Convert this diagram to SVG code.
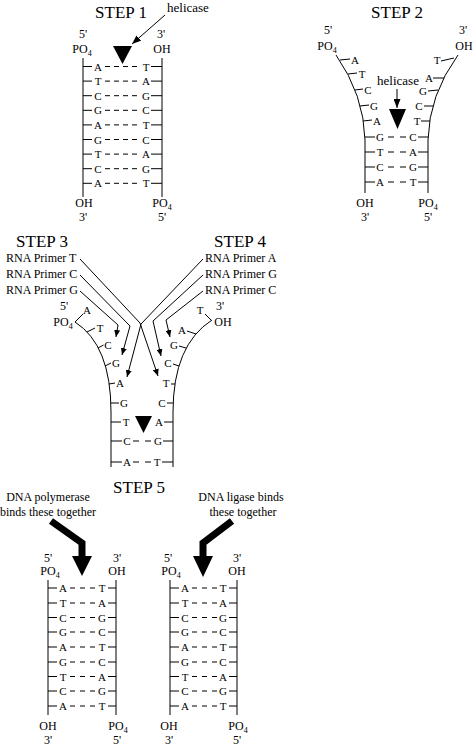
<svg xmlns="http://www.w3.org/2000/svg" width="475" height="749" viewBox="0 0 475 749" font-family="Liberation Serif, Times New Roman, serif">
<defs>
<marker id="ah" markerUnits="userSpaceOnUse" markerWidth="7" markerHeight="6" refX="7" refY="3" orient="auto"><path d="M0,0 L7,3 L0,6 z" fill="#000"/></marker>
<marker id="ahb" markerUnits="userSpaceOnUse" markerWidth="9" markerHeight="7" refX="9" refY="3.5" orient="auto"><path d="M0,0 L9,3.5 L0,7 z" fill="#000"/></marker>
</defs>
<style>
text{font-family:'Liberation Serif','Times New Roman',Times,serif;fill:#000}
.t{font-size:17px;text-anchor:middle}
.b{font-size:11px;text-anchor:middle}
.l{font-size:12px;text-anchor:middle}
.p{font-size:12px}
.h{font-size:13px}
.sub{font-size:8px}
.s{stroke:#000;stroke-width:1;fill:none}
.d4{stroke:#000;stroke-width:1;fill:none;stroke-dasharray:5 4}
.d3{stroke:#000;stroke-width:1;fill:none;stroke-dasharray:5 5}
.d2{stroke:#000;stroke-width:1;fill:none;stroke-dasharray:6 6}
.c{stroke:#000;stroke-width:1;fill:none}
.big{stroke:#000;stroke-width:7;fill:none;stroke-linejoin:miter}
.tri{fill:#000}
</style>

<g id="step1" font-family="Liberation Serif, serif">
<text class="t" x="121" y="18">STEP 1</text>
<text class="l" x="83" y="38">5'</text>
<text class="l" x="82" y="53">PO<tspan class="sub" dy="3">4</tspan></text>
<text class="l" x="161" y="38">3'</text>
<text class="l" x="162" y="53">OH</text>
<path class="s" d="M83,58 V197 M162,58 V197"/>
<path class="s" d="M83,66.5 H92 M151,66.5 H162 M83,81.1 H92 M151,81.1 H162 M83,95.7 H92 M151,95.7 H162 M83,110.3 H92 M151,110.3 H162 M83,124.9 H92 M151,124.9 H162 M83,139.5 H92 M151,139.5 H162 M83,154.1 H92 M151,154.1 H162 M83,168.7 H92 M151,168.7 H162 M83,183.3 H92 M151,183.3 H162"/>
<path class="d4" d="M105,66.5 H137 M105,81.1 H137 M105,95.7 H137 M105,110.3 H137 M105,124.9 H137 M105,139.5 H137 M105,154.1 H137 M105,168.7 H137 M105,183.3 H137"/>
<text class="b" x="98" y="70.5">A</text><text class="b" x="146" y="70.5">T</text>
<text class="b" x="98" y="85.1">T</text><text class="b" x="146" y="85.1">A</text>
<text class="b" x="98" y="99.7">C</text><text class="b" x="146" y="99.7">G</text>
<text class="b" x="98" y="114.3">G</text><text class="b" x="146" y="114.3">C</text>
<text class="b" x="98" y="128.9">A</text><text class="b" x="146" y="128.9">T</text>
<text class="b" x="98" y="143.5">G</text><text class="b" x="146" y="143.5">C</text>
<text class="b" x="98" y="158.1">T</text><text class="b" x="146" y="158.1">A</text>
<text class="b" x="98" y="172.7">C</text><text class="b" x="146" y="172.7">G</text>
<text class="b" x="98" y="187.3">A</text><text class="b" x="146" y="187.3">T</text>
<text class="l" x="84" y="207">OH</text>
<text class="l" x="83" y="221">3'</text>
<text class="l" x="162" y="207">PO<tspan class="sub" dy="3">4</tspan></text>
<text class="l" x="162" y="221">5'</text>
<polygon class="tri" points="113,46 132,46 122.5,64"/>
<text class="h" x="167" y="12">helicase</text>
</g>

<g id="step2">
<text class="t" x="397" y="18">STEP 2</text>
<text class="l" x="328" y="34">5'</text>
<text class="l" x="327" y="50">PO<tspan class="sub" dy="3">4</tspan></text>
<text class="l" x="463" y="34">3'</text>
<text class="l" x="464" y="50">OH</text>
<path class="s" d="M336,55 Q364,95 365,140 L365,193 M458,55 Q429,95 428,140 L428,193"/>
<path class="s" d="M340,60 L350,59 M348,74 L357,73 M355,90 L363,89 M360,106 L369,105 M363,121 L372,120 M365,137 H375 M365,152 H375 M365,167 H375 M365,182 H375 M441,61 L454,58 M433,78 L444,78 M428,91 L438,90 M424,106 L433,106 M421,121 L430,121 M418,137 H428 M418,152 H428 M418,167 H428 M418,182 H428"/>
<path class="d2" d="M388,137 H406 M388,152 H406 M388,167 H406 M388,182 H406"/>
<text class="b" x="355" y="64">A</text><text class="b" x="437" y="64">T</text>
<text class="b" x="362" y="78">T</text><text class="b" x="429" y="82">A</text>
<text class="b" x="368" y="94">C</text><text class="b" x="423" y="95">G</text>
<text class="b" x="374" y="110">G</text><text class="b" x="419" y="110">C</text>
<text class="b" x="377" y="125">A</text><text class="b" x="417" y="125">T</text>
<text class="b" x="380" y="141">G</text><text class="b" x="413" y="141">C</text>
<text class="b" x="380" y="156">T</text><text class="b" x="413" y="156">A</text>
<text class="b" x="380" y="171">C</text><text class="b" x="413" y="171">G</text>
<text class="b" x="380" y="186">A</text><text class="b" x="413" y="186">T</text>
<text class="l" x="365" y="207">OH</text>
<text class="l" x="365" y="221">3'</text>
<text class="l" x="428" y="207">PO<tspan class="sub" dy="3">4</tspan></text>
<text class="l" x="428" y="221">5'</text>
<polygon class="tri" points="389,109 406,109 397.5,129"/>
<text class="h" x="398" y="85" text-anchor="middle">helicase</text>
</g>

<g id="step3-4">
<text class="t" x="42" y="247">STEP 3</text>
<text class="t" x="240" y="247">STEP 4</text>
<text class="p" x="6" y="262">RNA Primer T</text>
<text class="p" x="6" y="278">RNA Primer C</text>
<text class="p" x="6" y="294">RNA Primer G</text>
<text class="p" x="205" y="262">RNA Primer A</text>
<text class="p" x="205" y="278">RNA Primer G</text>
<text class="p" x="205" y="294">RNA Primer C</text>
<text class="l" x="64" y="310">5'</text>
<text class="l" x="63" y="326">PO<tspan class="sub" dy="3">4</tspan></text>
<text class="l" x="220" y="310">3'</text>
<text class="l" x="223" y="326">OH</text>
<path class="s" d="M75,322 Q111,345 111,412 L111,467 M212,320 Q173,345 173,412 L173,467"/>
<path class="s" d="M75,322 L83,314 M87,332 L95,328 M98,348 L103.5,345 M105,366 L111,363 M109,384 L115,383 M111,403 H119 M111,422 H121 M111,441 H122 M111,462 H122 M205,314 L211,320 M187,331 L196,334 M179,346 L186,348 M173,364 L179,366 M171,384 L175,384 M167,403 H173 M164,422 H173 M163,441 H173 M162,462 H173"/>
<path class="d2" d="M133,441 H151 M133,462 H151"/>
<text class="b" x="87" y="314">A</text><text class="b" x="200" y="314">T</text>
<text class="b" x="100" y="332">T</text><text class="b" x="182" y="334">A</text>
<text class="b" x="108" y="349">C</text><text class="b" x="174" y="349">G</text>
<text class="b" x="116" y="367">G</text><text class="b" x="168" y="367">C</text>
<text class="b" x="120" y="387">A</text><text class="b" x="166" y="387">T</text>
<text class="b" x="124" y="407">G</text><text class="b" x="162" y="407">C</text>
<text class="b" x="126" y="426">T</text><text class="b" x="159" y="426">A</text>
<text class="b" x="127" y="445">C</text><text class="b" x="158" y="445">G</text>
<text class="b" x="127" y="466">A</text><text class="b" x="157" y="466">T</text>
<polygon class="tri" points="135,416 152,416 143.5,433"/>
</g>

<g id="step5-left">
<text class="t" x="139" y="493">STEP 5</text>
<text class="l" x="48" y="501">DNA polymerase</text>
<text class="l" x="48" y="516">binds these together</text>
<text class="l" x="48" y="562">5'</text>
<text class="l" x="50" y="575">PO<tspan class="sub" dy="3">4</tspan></text>
<text class="l" x="117" y="562">3'</text>
<text class="l" x="117" y="575">OH</text>
<path class="s" d="M48,580 V715 M116,580 V715"/>
<path class="s" d="M48,588 H57 M108,588 H116 M48,603 H57 M108,603 H116 M48,617.5 H57 M108,617.5 H116 M48,632 H57 M108,632 H116 M48,647 H57 M108,647 H116 M48,662 H57 M108,662 H116 M48,676.5 H57 M108,676.5 H116 M48,691 H57 M108,691 H116 M48,706 H57 M108,706 H116"/>
<path class="d3" d="M70,588 H95 M70,603 H95 M70,617.5 H95 M70,632 H95 M70,647 H95 M70,662 H95 M70,676.5 H95 M70,691 H95 M70,706 H95"/>
<text class="b" x="63" y="592">A</text><text class="b" x="102" y="592">T</text>
<text class="b" x="63" y="607">T</text><text class="b" x="102" y="607">A</text>
<text class="b" x="63" y="621.5">C</text><text class="b" x="102" y="621.5">G</text>
<text class="b" x="63" y="636">G</text><text class="b" x="102" y="636">C</text>
<text class="b" x="63" y="651">A</text><text class="b" x="102" y="651">T</text>
<text class="b" x="63" y="666">G</text><text class="b" x="102" y="666">C</text>
<text class="b" x="63" y="680.5">T</text><text class="b" x="102" y="680.5">A</text>
<text class="b" x="63" y="695">C</text><text class="b" x="102" y="695">G</text>
<text class="b" x="63" y="710">A</text><text class="b" x="102" y="710">T</text>
<text class="l" x="48" y="730">OH</text>
<text class="l" x="48" y="744">3'</text>
<text class="l" x="118" y="730">PO<tspan class="sub" dy="3">4</tspan></text>
<text class="l" x="117" y="744">5'</text>
</g>

<g id="step5-right">
<text class="l" x="241" y="501">DNA ligase binds</text>
<text class="l" x="243" y="516">these together</text>
<text class="l" x="168" y="562">5'</text>
<text class="l" x="171" y="575">PO<tspan class="sub" dy="3">4</tspan></text>
<text class="l" x="237" y="562">3'</text>
<text class="l" x="237" y="575">OH</text>
<path class="s" d="M170,580 V715 M237,580 V715"/>
<path class="s" d="M170,588 H179 M229,588 H237 M170,603 H179 M229,603 H237 M170,617.5 H179 M229,617.5 H237 M170,632 H179 M229,632 H237 M170,647 H179 M229,647 H237 M170,662 H179 M229,662 H237 M170,676.5 H179 M229,676.5 H237 M170,691 H179 M229,691 H237 M170,706 H179 M229,706 H237"/>
<path class="d3" d="M192,588 H217 M192,603 H217 M192,617.5 H217 M192,632 H217 M192,647 H217 M192,662 H217 M192,676.5 H217 M192,691 H217 M192,706 H217"/>
<text class="b" x="185" y="592">A</text><text class="b" x="223" y="592">T</text>
<text class="b" x="185" y="607">T</text><text class="b" x="223" y="607">A</text>
<text class="b" x="185" y="621.5">C</text><text class="b" x="223" y="621.5">G</text>
<text class="b" x="185" y="636">G</text><text class="b" x="223" y="636">C</text>
<text class="b" x="185" y="651">A</text><text class="b" x="223" y="651">T</text>
<text class="b" x="185" y="666">G</text><text class="b" x="223" y="666">C</text>
<text class="b" x="185" y="680.5">T</text><text class="b" x="223" y="680.5">A</text>
<text class="b" x="185" y="695">C</text><text class="b" x="223" y="695">G</text>
<text class="b" x="185" y="710">A</text><text class="b" x="223" y="710">T</text>
<text class="l" x="169" y="730">OH</text>
<text class="l" x="169" y="744">3'</text>
<text class="l" x="238" y="730">PO<tspan class="sub" dy="3">4</tspan></text>
<text class="l" x="237" y="744">5'</text>
</g>

<g id="connectors">
<line class="c" x1="165" y1="15" x2="132" y2="44" marker-end="url(#ahb)"/>
<line class="c" x1="397" y1="89" x2="397" y2="108" marker-end="url(#ahb)"/>
<polyline class="c" points="80,259 140,323 158,376" marker-end="url(#ah)"/>
<polyline class="c" points="80,275 130,326 122,355" marker-end="url(#ah)"/>
<polyline class="c" points="80,291 118,325 116,337" marker-end="url(#ah)"/>
<polyline class="c" points="203,259 141,324 127,377" marker-end="url(#ah)"/>
<polyline class="c" points="203,275 153,321 161,356" marker-end="url(#ah)"/>
<polyline class="c" points="203,291 166,320 170,337" marker-end="url(#ah)"/>
<polyline class="big" points="51,521 82,543 82,558"/>
<polygon class="tri" points="72,556 92,556 82,576"/>
<polyline class="big" points="232,521 203,543 203,558"/>
<polygon class="tri" points="193,556 213,556 203,577"/>
</g>
</svg>
